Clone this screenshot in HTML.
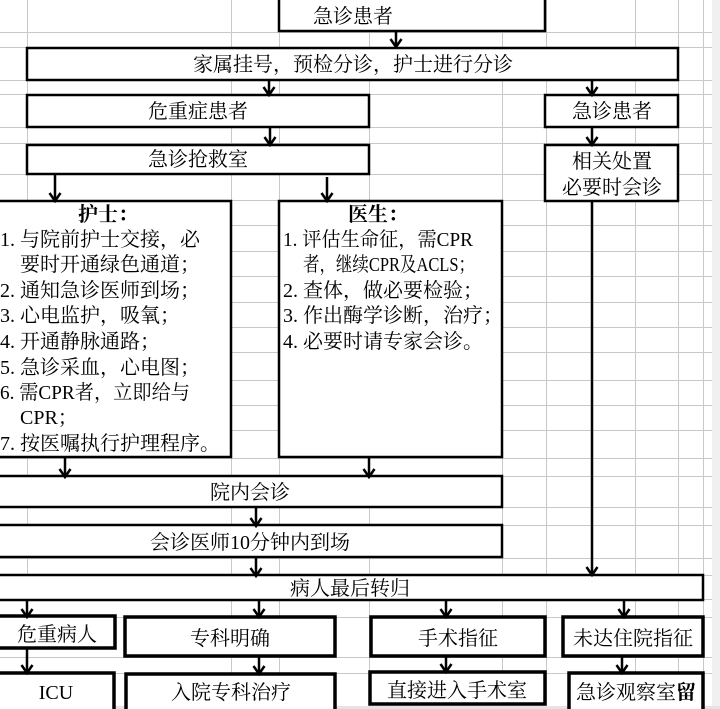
<!DOCTYPE html>
<html><head><meta charset="utf-8"><style>
html,body{margin:0;padding:0;background:#fff;}
svg{display:block;}
text{font-family:"Liberation Serif","Noto Serif CJK SC",serif;font-size:20px;fill:#000;}
</style></head><body>
<svg width="720" height="709" viewBox="0 0 720 709" xmlns="http://www.w3.org/2000/svg">
<defs>
<marker id="a" markerWidth="14" markerHeight="14" refX="11" refY="7" orient="auto" markerUnits="userSpaceOnUse">
<path d="M3,1.5 L11,7 L3,12.5" fill="none" stroke="#000" stroke-width="2.5"/>
</marker>
</defs>
<g stroke="#c8c8c8" stroke-width="1">
<line x1="27.5" y1="0" x2="27.5" y2="709"/><line x1="231.5" y1="0" x2="231.5" y2="709"/>
<line x1="279.5" y1="0" x2="279.5" y2="709"/><line x1="369.5" y1="0" x2="369.5" y2="709"/>
<line x1="502.5" y1="0" x2="502.5" y2="709"/><line x1="546.5" y1="0" x2="546.5" y2="709"/>
<line x1="635.5" y1="0" x2="635.5" y2="709"/><line x1="678.5" y1="0" x2="678.5" y2="709"/>
<line x1="703.5" y1="0" x2="703.5" y2="709"/>
<line x1="0" y1="32.5" x2="720" y2="32.5"/><line x1="0" y1="47.5" x2="720" y2="47.5"/>
<line x1="0" y1="80.5" x2="720" y2="80.5"/><line x1="0" y1="94.5" x2="720" y2="94.5"/>
<line x1="0" y1="127.5" x2="720" y2="127.5"/><line x1="0" y1="143.5" x2="720" y2="143.5"/>
<line x1="0" y1="174.5" x2="720" y2="174.5"/><line x1="0" y1="200.5" x2="720" y2="200.5"/>
<line x1="0" y1="225.5" x2="720" y2="225.5"/><line x1="0" y1="251.5" x2="720" y2="251.5"/>
<line x1="0" y1="276.5" x2="720" y2="276.5"/><line x1="0" y1="302.5" x2="720" y2="302.5"/>
<line x1="0" y1="327.5" x2="720" y2="327.5"/><line x1="0" y1="352.5" x2="720" y2="352.5"/>
<line x1="0" y1="380.5" x2="720" y2="380.5"/><line x1="0" y1="405.5" x2="720" y2="405.5"/>
<line x1="0" y1="430.5" x2="720" y2="430.5"/><line x1="0" y1="458.5" x2="720" y2="458.5"/>
<line x1="0" y1="476.5" x2="720" y2="476.5"/><line x1="0" y1="507.5" x2="720" y2="507.5"/>
<line x1="0" y1="525.5" x2="720" y2="525.5"/><line x1="0" y1="558.5" x2="720" y2="558.5"/>
<line x1="0" y1="575.5" x2="720" y2="575.5"/><line x1="0" y1="599.5" x2="720" y2="599.5"/>
<line x1="0" y1="617.5" x2="720" y2="617.5"/><line x1="0" y1="657.5" x2="720" y2="657.5"/>
<line x1="0" y1="673.5" x2="720" y2="673.5"/>
</g>
<rect x="712" y="0" width="8" height="709" fill="#f0f0f0"/>
<rect x="0" y="706" width="720" height="3" fill="#e4e4e4"/>
<g fill="#fff" stroke="#000" stroke-width="2.5">
<rect x="279" y="-3" width="266" height="34"/>
<rect x="27" y="48" width="651" height="32"/>
<rect x="27" y="95" width="342" height="32"/>
<rect x="545" y="95" width="133" height="32"/>
<rect x="27" y="145" width="342" height="29"/>
<rect x="545" y="145" width="133" height="56"/>
<rect x="-3" y="201" width="234" height="256"/>
<rect x="279" y="201" width="223" height="256"/>
<rect x="-3" y="476" width="505" height="31"/>
<rect x="-3" y="525" width="505" height="32"/>
<rect x="-3" y="575" width="706" height="25"/>
</g>
<g fill="#fff" stroke="#000" stroke-width="3.5">
<rect x="-3" y="616" width="118" height="32"/>
<rect x="125" y="617" width="210" height="39"/>
<rect x="371" y="617" width="174" height="39"/>
<rect x="563" y="617" width="140" height="39"/>
<rect x="-3" y="673" width="117" height="40"/>
<rect x="126" y="674" width="209" height="40"/>
<rect x="370" y="672" width="175" height="32"/>
<rect x="569" y="673" width="134" height="40"/>
</g>
<g stroke="#000" stroke-width="2.5" marker-end="url(#a)">
<line x1="396" y1="31" x2="396" y2="47"/>
<line x1="269" y1="80" x2="269" y2="95"/>
<line x1="592" y1="80" x2="592" y2="95"/>
<line x1="270" y1="127" x2="270" y2="145"/>
<line x1="592" y1="127" x2="592" y2="145"/>
<line x1="55" y1="174" x2="55" y2="201"/>
<line x1="327" y1="177" x2="327" y2="201"/>
<line x1="592" y1="201" x2="592" y2="575"/>
<line x1="65" y1="457" x2="65" y2="477"/>
<line x1="369" y1="457" x2="369" y2="477"/>
<line x1="256" y1="507" x2="256" y2="526"/>
<line x1="256" y1="558" x2="256" y2="576"/>
<line x1="27" y1="600" x2="27" y2="617"/>
<line x1="259" y1="600" x2="259" y2="617"/>
<line x1="446" y1="600" x2="446" y2="617"/>
<line x1="624" y1="600" x2="624" y2="617"/>
<line x1="27" y1="648" x2="27" y2="673"/>
<line x1="259" y1="656" x2="259" y2="674"/>
<line x1="446" y1="656" x2="446" y2="672"/>
<line x1="622" y1="656" x2="622" y2="673"/>
</g>
<g text-anchor="middle">
<text x="353" y="23">急诊患者</text>
<text x="353" y="71">家属挂号，预检分诊，护士进行分诊</text>
<text x="198" y="118">危重症患者</text>
<text x="612" y="118">急诊患者</text>
<text x="198" y="166">急诊抢救室</text>
<text x="612" y="168">相关处置</text>
<text x="612" y="194">必要时会诊</text>
<text x="108" y="221" font-weight="bold">护士：</text>
<text x="378" y="221" font-weight="bold">医生：</text>
<text x="250" y="499">院内会诊</text>
<text x="250" y="549">会诊医师10分钟内到场</text>
<text x="350" y="595">病人最后转归</text>
<text x="57" y="641">危重病人</text>
<text x="230" y="645">专科明确</text>
<text x="458" y="645">手术指征</text>
<text x="633" y="645">未达住院指征</text>
<text x="56" y="699">ICU</text>
<text x="231" y="699">入院专科治疗</text>
<text x="457" y="697">直接进入手术室</text>
<text x="636" y="699">急诊观察室<tspan font-weight="bold">留</tspan></text>
</g>
<g>
<text x="0" y="246">1. 与院前护士交接，必</text>
<text x="20" y="271">要时开通绿色通道；</text>
<text x="0" y="297">2. 通知急诊医师到场；</text>
<text x="0" y="322">3. 心电监护，吸氧；</text>
<text x="0" y="348">4. 开通静脉通路；</text>
<text x="0" y="374">5. 急诊采血，心电图；</text>
<text x="0" y="399" textLength="190" lengthAdjust="spacingAndGlyphs">6. 需CPR者，立即给与</text>
<text x="20" y="424">CPR；</text>
<text x="0" y="450">7. 按医嘱执行护理程序。</text>
<text x="283" y="246" textLength="190" lengthAdjust="spacingAndGlyphs">1. 评估生命征，需CPR</text>
<text x="303" y="271" textLength="172" lengthAdjust="spacingAndGlyphs">者，继续CPR及ACLS；</text>
<text x="283" y="297">2. 查体，做必要检验；</text>
<text x="283" y="322">3. 作出酶学诊断，治疗；</text>
<text x="283" y="348">4. 必要时请专家会诊。</text>
</g>
</svg>
</body></html>
